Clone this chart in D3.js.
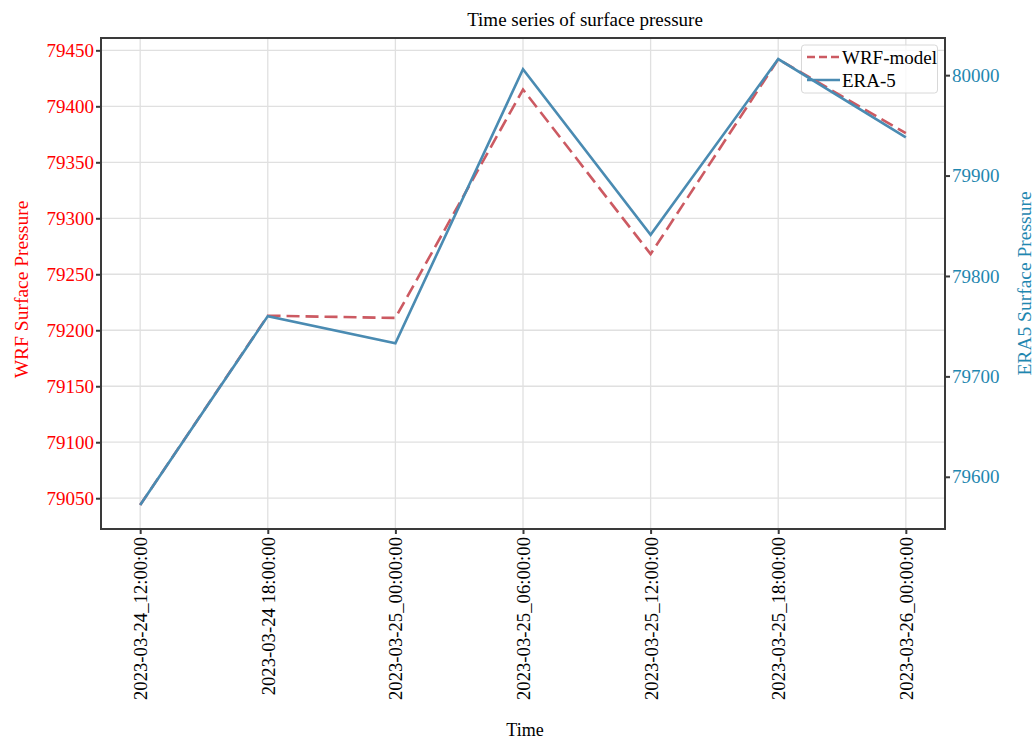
<!DOCTYPE html>
<html>
<head>
<meta charset="utf-8">
<script src="https://cdn.jsdelivr.net/npm/d3@7"></script>
<style>
  html, body { margin: 0; padding: 0; background: #fff; }
  svg { display: block; font-family: "Liberation Serif", "Times New Roman", serif; }
</style>
</head>
<body>
<svg id="chart" width="1035" height="740"></svg>
<script>
// Time steps (labels as written by the model output)
const timeLabels = [
  "2023-03-24_12:00:00",
  "2023-03-24 18:00:00",
  "2023-03-25_00:00:00",
  "2023-03-25_06:00:00",
  "2023-03-25_12:00:00",
  "2023-03-25_18:00:00",
  "2023-03-26_00:00:00"
];
// Surface pressure (Pa)
const wrfValues = [79044, 79213, 79211, 79415, 79268, 79442, 79376];
const era5Values = [79572, 79760, 79733, 80006, 79841, 80016, 79938];
// Tick labels for the two y axes
const wrfTicks = [79050, 79100, 79150, 79200, 79250, 79300, 79350, 79400, 79450];
const era5Ticks = [79600, 79700, 79800, 79900, 80000];

const seriesNames = ["WRF-model", "ERA-5"];
const wrfColor = "#cc5a62";
const eraColor = "#4a8bb2";
const leftLabelColor = "#ff0000";
const rightLabelColor = "#1f87b0";

const svg = d3.select("#chart");
const plot = { left: 101, right: 945, top: 38, bottom: 529 };

const x = d3.scalePoint()
  .domain(timeLabels)
  .range([plot.left, plot.right])
  .padding(0.307);

const yL = d3.scaleLinear().domain([79022.5, 79461]).range([plot.bottom, plot.top]);
const yR = d3.scaleLinear().domain([79548, 80037]).range([plot.bottom, plot.top]);

// Grid: vertical at each time step, horizontal at WRF ticks
const grid = svg.append("g").attr("stroke", "#e0e0e0").attr("stroke-width", 1.3);
grid.selectAll("line.v").data(timeLabels).join("line")
  .attr("x1", d => x(d)).attr("x2", d => x(d))
  .attr("y1", plot.top).attr("y2", plot.bottom);
grid.selectAll("line.h").data(wrfTicks).join("line")
  .attr("x1", plot.left).attr("x2", plot.right)
  .attr("y1", d => yL(d)).attr("y2", d => yL(d));

// Legend box (semi-transparent, lines pass over it)
const leg = svg.append("g");
leg.append("rect")
  .attr("x", 801.5).attr("y", 45).attr("width", 136).attr("height", 48)
  .attr("rx", 3)
  .attr("fill", "#fff").attr("fill-opacity", 0.8)
  .attr("stroke", "#d8d8d8").attr("stroke-width", 1);

// Series lines
const lineL = d3.line().x((d, i) => x(timeLabels[i])).y(d => yL(d));
const lineR = d3.line().x((d, i) => x(timeLabels[i])).y(d => yR(d));

svg.append("path").datum(wrfValues)
  .attr("d", lineL).attr("fill", "none")
  .attr("stroke", wrfColor).attr("stroke-width", 2.6)
  .attr("stroke-dasharray", "13,6");

svg.append("path").datum(era5Values)
  .attr("d", lineR).attr("fill", "none")
  .attr("stroke", eraColor).attr("stroke-width", 2.6);

// Legend entries
const legItems = [
  { name: seriesNames[0], color: wrfColor, dash: "8,4", y: 57 },
  { name: seriesNames[1], color: eraColor, dash: null, y: 80 }
];
legItems.forEach(it => {
  leg.append("line")
    .attr("x1", 807).attr("x2", 840).attr("y1", it.y).attr("y2", it.y)
    .attr("stroke", it.color).attr("stroke-width", 2.6)
    .attr("stroke-dasharray", it.dash);
  leg.append("text")
    .attr("x", 842).attr("y", it.y + 7)
    .attr("font-size", 19).attr("fill", "#000")
    .text(it.name);
});

// Frame
svg.append("rect")
  .attr("x", plot.left).attr("y", plot.top)
  .attr("width", plot.right - plot.left).attr("height", plot.bottom - plot.top)
  .attr("fill", "none").attr("stroke", "#3a3a3a").attr("stroke-width", 2);

// Left axis
const axL = svg.append("g").attr("transform", `translate(${plot.left},0)`)
  .call(d3.axisLeft(yL).tickValues(wrfTicks).tickFormat(d3.format("d")).tickSize(5).tickPadding(2));
axL.select(".domain").remove();
axL.selectAll(".tick line").attr("stroke", "#3a3a3a").attr("stroke-width", 2);
axL.selectAll(".tick text").attr("fill", leftLabelColor)
  .attr("font-size", 19).attr("font-family", "Liberation Serif, serif");

// Right axis
const axR = svg.append("g").attr("transform", `translate(${plot.right},0)`)
  .call(d3.axisRight(yR).tickValues(era5Ticks).tickFormat(d3.format("d")).tickSize(5).tickPadding(2));
axR.select(".domain").remove();
axR.selectAll(".tick line").attr("stroke", "#3a3a3a").attr("stroke-width", 2);
axR.selectAll(".tick text").attr("fill", rightLabelColor)
  .attr("font-size", 19).attr("font-family", "Liberation Serif, serif");

// Bottom axis with vertical labels
const axB = svg.append("g").attr("transform", `translate(0,${plot.bottom})`)
  .call(d3.axisBottom(x).tickSize(5).tickPadding(3));
axB.select(".domain").remove();
axB.selectAll(".tick line").attr("stroke", "#3a3a3a").attr("stroke-width", 2);
axB.selectAll(".tick text")
  .attr("font-size", 18.7).attr("font-family", "Liberation Serif, serif").attr("fill", "#000")
  .attr("text-anchor", "end")
  .attr("transform", "translate(0,8) rotate(-90)")
  .attr("x", 0).attr("y", 0).attr("dy", "0.35em");

// Titles
svg.append("text")
  .attr("x", 585).attr("y", 26)
  .attr("text-anchor", "middle").attr("font-size", 19).attr("fill", "#000")
  .text("Time series of surface pressure");

svg.append("text")
  .attr("x", (plot.left + plot.right) / 2 + 2).attr("y", 736)
  .attr("text-anchor", "middle").attr("font-size", 18).attr("fill", "#000")
  .text("Time");

svg.append("text")
  .attr("transform", `translate(28,${(plot.top + plot.bottom) / 2 + 6}) rotate(-90)`)
  .attr("text-anchor", "middle").attr("font-size", 19.5).attr("fill", leftLabelColor)
  .text("WRF Surface Pressure");

svg.append("text")
  .attr("transform", `translate(1031,${(plot.top + plot.bottom) / 2}) rotate(-90)`)
  .attr("text-anchor", "middle").attr("font-size", 19.5).attr("fill", rightLabelColor)
  .text("ERA5 Surface Pressure");
</script>
</body>
</html>
